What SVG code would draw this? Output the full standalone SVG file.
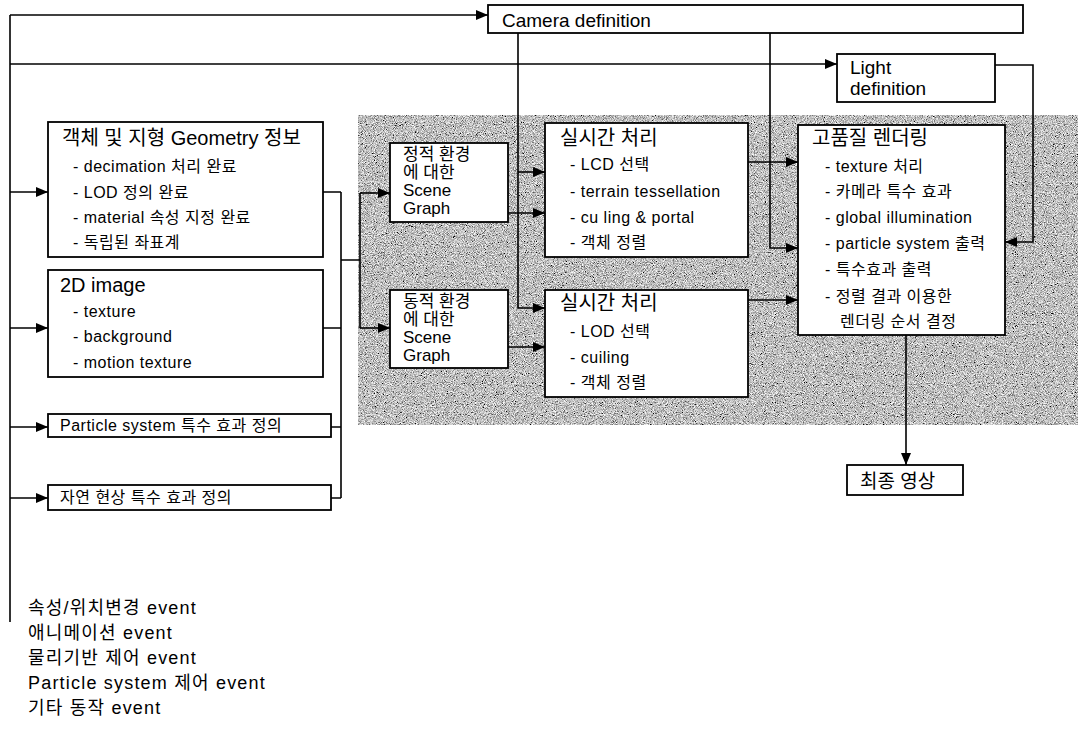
<svg xmlns="http://www.w3.org/2000/svg" width="1078" height="730" viewBox="0 0 1078 730">
<style>
text{font-family:"Liberation Sans","Noto Sans CJK KR",sans-serif;fill:#000}
.box{fill:#fff;stroke:#000;stroke-width:1.8}
.t20{font-size:20px}
.t19{font-size:19px}
.sg{font-size:17px}
.it{font-size:16px;letter-spacing:0.5px}
.ev{font-size:18px;letter-spacing:1.2px}
.ln{fill:none;stroke:#000;stroke-width:1.6}
.ar{fill:none;stroke:#000;stroke-width:1.6;marker-end:url(#ah)}
</style>
<defs>
<marker id="ah" viewBox="0 0 12 10" refX="12" refY="5" markerWidth="12" markerHeight="10" markerUnits="userSpaceOnUse" orient="auto">
<path d="M0,0 L12,5 L0,10 z" fill="#000"/>
</marker>
<filter id="noise" filterUnits="userSpaceOnUse" x="358" y="115" width="720" height="310">
<feTurbulence type="fractalNoise" baseFrequency="1.1" numOctaves="2" seed="7" result="t"/>
<feColorMatrix in="t" type="matrix" values="1.8 0 0 0 -0.38  1.8 0 0 0 -0.38  1.8 0 0 0 -0.38  0 0 0 0 1"/>
</filter>
</defs>
<rect id="shade" x="358" y="115" width="720" height="310" fill="#999" filter="url(#noise)"/>
<g id="connectors">
<path class="ln" d="M10,15 V622"/>
<path class="ar" d="M10,15 H488"/>
<path class="ar" d="M10,64 H837"/>
<path class="ar" d="M10,192 H48"/>
<path class="ar" d="M10,328 H48"/>
<path class="ar" d="M10,427 H48"/>
<path class="ar" d="M10,498 H48"/>
<path class="ln" d="M323,192 H341 M323,328 H341 M331,427 H341 M331,498 H341 M341,192 V498 M341,260 H360 M360,193 V328"/>
<path class="ar" d="M360,193 H390"/>
<path class="ar" d="M360,328 H390"/>
<path class="ar" d="M508,213 H545"/>
<path class="ar" d="M508,347 H545"/>
<path class="ar" d="M518,33 V308 H545"/>
<path class="ar" d="M518,172 H545"/>
<path class="ar" d="M770,33 V248 H798"/>
<path class="ar" d="M748,162 H798"/>
<path class="ar" d="M748,300 H798"/>
<path class="ar" d="M995,65 H1033 V242 H1005"/>
<path class="ar" d="M906,335 V465"/>
</g>
<g id="camera">
<rect class="box" x="488" y="5" width="535" height="28"/>
<text class="t19" x="502" y="27">Camera definition</text>
</g>
<g id="light">
<rect class="box" x="837" y="54" width="158" height="48"/>
<text class="t19" x="850" y="74">Light</text>
<text class="t19" x="850" y="95">definition</text>
</g>
<g id="geometry">
<rect class="box" x="48" y="122" width="275" height="135"/>
<text class="t20" x="62" y="145">객체 및 지형 Geometry 정보</text>
<text class="it" x="73" y="172">- decimation 처리 완료</text>
<text class="it" x="73" y="198">- LOD 정의 완료</text>
<text class="it" x="73" y="223">- material 속성 지정 완료</text>
<text class="it" x="73" y="248">- 독립된 좌표계</text>
</g>
<g id="image2d">
<rect class="box" x="48" y="270" width="275" height="107"/>
<text class="t20" x="60" y="292">2D image</text>
<text class="it" x="73" y="317">- texture</text>
<text class="it" x="73" y="342">- background</text>
<text class="it" x="73" y="368">- motion texture</text>
</g>
<g id="particle">
<rect class="box" x="48" y="414" width="283" height="23"/>
<text class="it" x="60" y="431">Particle system 특수 효과 정의</text>
</g>
<g id="nature">
<rect class="box" x="48" y="485" width="283" height="25"/>
<text class="it" x="60" y="503">자연 현상 특수 효과 정의</text>
</g>
<g id="static-sg">
<rect class="box" x="390" y="143" width="118" height="79"/>
<text class="sg" x="403" y="160">정적 환경</text>
<text class="sg" x="403" y="178">에 대한</text>
<text class="sg" x="403" y="196">Scene</text>
<text class="sg" x="403" y="214">Graph</text>
</g>
<g id="dynamic-sg">
<rect class="box" x="390" y="290" width="118" height="78"/>
<text class="sg" x="403" y="307">동적 환경</text>
<text class="sg" x="403" y="325">에 대한</text>
<text class="sg" x="403" y="343">Scene</text>
<text class="sg" x="403" y="361">Graph</text>
</g>
<g id="realtime1">
<rect class="box" x="545" y="123" width="203" height="134"/>
<text class="t20" x="560" y="145">실시간 처리</text>
<text class="it" x="570" y="170">- LCD 선택</text>
<text class="it" x="570" y="197">- terrain tessellation</text>
<text class="it" x="570" y="223">- cu ling &amp; portal</text>
<text class="it" x="570" y="248">- 객체 정렬</text>
</g>
<g id="realtime2">
<rect class="box" x="545" y="290" width="203" height="107"/>
<text class="t20" x="560" y="310">실시간 처리</text>
<text class="it" x="570" y="337">- LOD 선택</text>
<text class="it" x="570" y="363">- cuiling</text>
<text class="it" x="570" y="388">- 객체 정렬</text>
</g>
<g id="rendering">
<rect class="box" x="798" y="125" width="207" height="210"/>
<text class="t20" x="812" y="145">고품질 렌더링</text>
<text class="it" x="825" y="172">- texture 처리</text>
<text class="it" x="825" y="197">- 카메라 특수 효과</text>
<text class="it" x="825" y="223">- global illumination</text>
<text class="it" x="825" y="249">- particle system 출력</text>
<text class="it" x="825" y="275">- 특수효과 출력</text>
<text class="it" x="825" y="302">- 정렬 결과 이용한</text>
<text class="it" x="840" y="327">렌더링 순서 결정</text>
</g>
<g id="final">
<rect class="box" x="847" y="465" width="116" height="30"/>
<text class="t19" x="860" y="488">최종 영상</text>
</g>
<g id="events">
<text class="ev" x="28" y="614">속성/위치변경 event</text>
<text class="ev" x="28" y="639">애니메이션 event</text>
<text class="ev" x="28" y="664">물리기반 제어 event</text>
<text class="ev" x="28" y="689">Particle system 제어 event</text>
<text class="ev" x="28" y="714">기타 동작 event</text>
</g>
</svg>
